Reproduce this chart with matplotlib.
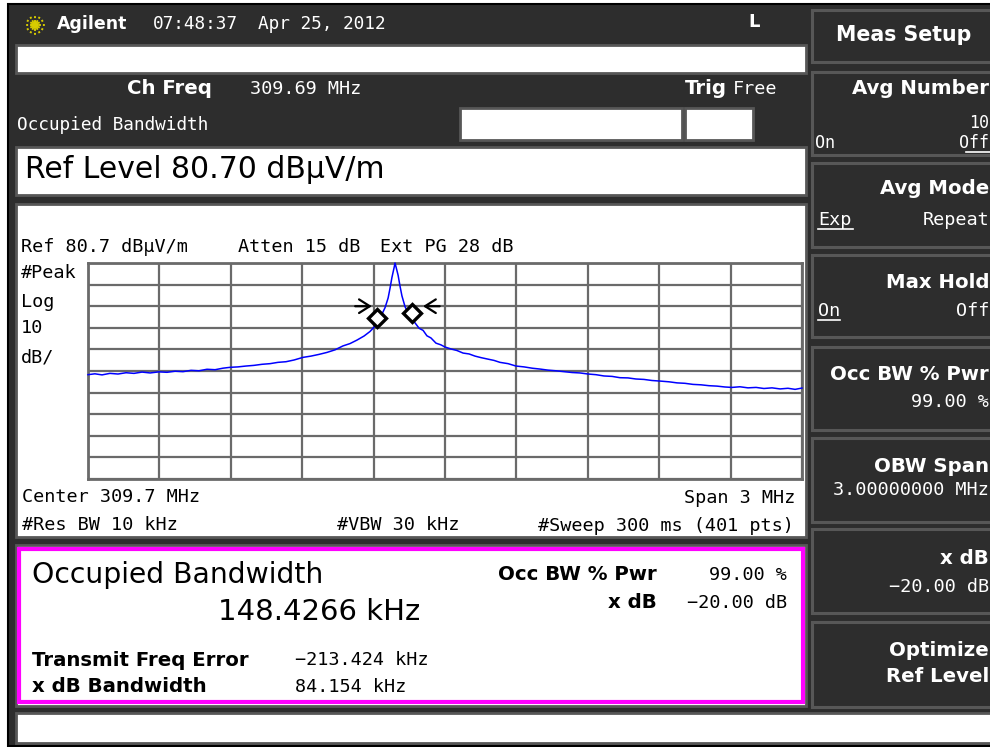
import numpy as np
import matplotlib
matplotlib.use("Agg")
import matplotlib.pyplot as plt
from matplotlib.patches import Rectangle

# ---------------- data ----------------
center_mhz = 309.7
span_mhz = 3.0
ref_level = 80.7
db_per_div = 10
ch_freq_mhz = 309.69

# trace: frequency offset from centre (kHz) and level (dBuV/m)
trace_offset_khz = [
    -1500, -1471, -1441, -1408, -1374, -1340, -1307, -1273, -1239, -1202,
    -1168, -1134, -1101, -1067, -1034, -1000, -966, -933, -903, -870,
    -836, -803, -769, -735, -702, -668, -634, -597, -563, -529,
    -496, -462, -429, -399, -370, -340, -315, -298, -282, -265,
    -252, -239, -231, -223, -214, -210, -206, -197, -189, -181,
    -168, -155, -143, -126, -109, -92, -76, -59, -38, -17,
    0, 25, 50, 76, 101, 126, 151, 176, 206, 231,
    265, 298, 332, 366, 399, 433, 466, 500, 534, 567,
    601, 634, 668, 702, 735, 769, 802, 836, 870, 908,
    941, 975, 1008, 1042, 1076, 1109, 1143, 1176, 1206, 1239,
    1273, 1307, 1340, 1374, 1408, 1441, 1471, 1500]
trace_level_db = [
    29.0, 29.4, 28.9, 29.6, 29.3, 29.9, 29.6, 30.2, 29.8, 30.3,
    30.1, 30.6, 30.4, 31.0, 30.8, 31.5, 31.3, 32.0, 32.4, 32.6,
    33.0, 33.3, 33.8, 34.1, 34.7, 35.0, 35.8, 37.0, 37.6, 38.4,
    39.3, 40.5, 42.3, 43.4, 45.0, 46.9, 49.0, 51.0, 53.5, 57.0,
    60.0, 64.5, 69.0, 74.0, 78.5, 80.7, 79.0, 75.0, 70.0, 65.5,
    60.5, 57.5, 55.5, 53.0, 50.5, 49.5, 47.0, 46.0, 43.6, 42.8,
    41.8, 40.9, 40.2, 39.0, 38.6, 37.6, 36.9, 36.3, 35.6, 34.7,
    34.1, 33.0, 32.6, 32.0, 31.6, 31.1, 30.8, 30.4, 30.0, 29.8,
    29.3, 29.0, 28.4, 28.2, 27.6, 27.5, 27.0, 26.8, 26.3, 26.0,
    25.7, 25.2, 25.0, 24.5, 24.3, 23.9, 23.7, 23.3, 23.1, 23.4,
    22.9, 23.1, 22.6, 22.9, 22.4, 22.7, 22.2, 22.8]

occ_bw_khz = 148.4266
freq_error_khz = -213.424
xdb_bw_khz = 84.154
occ_pwr_pct = 99.00
xdb_value = -20.00

# ---------------- style ----------------
DARK = "#2d2d2d"
EDGE = "#575757"
MONO = "DejaVu Sans Mono"
SANS = "DejaVu Sans"
MS = 13.3      # small mono size
BS = 14.2      # bold label size

fig = plt.figure(figsize=(9.9, 7.47), dpi=100, facecolor="white")
bg = fig.add_axes([0, 0, 1, 1])
bg.set_xlim(0, 990)
bg.set_ylim(747, 0)
bg.axis("off")


def box(x0, y0, x1, y1, fc, ec=EDGE, lw=2.0, z=1):
    bg.add_patch(Rectangle((x0, y0), x1 - x0, y1 - y0, facecolor=fc,
                           edgecolor=ec, linewidth=lw, zorder=z))


def txt(s, x, y, size=MS, color="black", ha="left", family=MONO, weight="normal"):
    bg.text(x, y, s, fontsize=size, color=color, ha=ha, va="center",
            family=family, fontweight=weight, zorder=5)


def utxt(s, x, y, x0, x1, color="white", ha="left", size=MS):
    txt(s, x, y, color=color, ha=ha, size=size)
    bg.plot([x0, x1], [y + 9, y + 9], color=color, lw=1.2, zorder=5)


# dark instrument frame
box(8, 4, 992, 746, DARK, ec="black", lw=1.5, z=0)

# logo
cx, cy = 35, 25
for a in np.linspace(0, 2 * np.pi, 12, endpoint=False):
    bg.plot([cx + 3.5 * np.cos(a), cx + 10 * np.cos(a)],
            [cy + 3.5 * np.sin(a), cy + 10 * np.sin(a)],
            color="#d8cc00", lw=1.4, ls=(0, (1, 1)), zorder=5)
bg.add_patch(plt.Circle((cx, cy), 3.2, color="#d8cc00", zorder=5))

txt("Agilent", 57, 24, size=12.5, color="white", family=SANS, weight="bold")
txt("07:48:37", 153, 24, size=12.8, color="white")
txt("Apr 25, 2012", 258, 24, size=12.8, color="white")
txt("L", 754, 22, size=13, color="white", family=SANS, weight="bold", ha="center")

box(16, 45, 806, 73, "white")
txt("Ch Freq", 127, 89, size=BS, color="white", family=SANS, weight="bold")
txt(f"{ch_freq_mhz:.2f} MHz", 250, 89, color="white")
txt("Trig", 685, 89, size=BS, color="white", family=SANS, weight="bold")
txt("Free", 733, 89, color="white")
txt("Occupied Bandwidth", 17, 125, size=12.8, color="white")
box(460, 108, 682, 140, "white")
box(685, 108, 753, 140, "white")

box(16, 147, 806, 195, "white")
txt(f"Ref Level {ref_level:.2f} dBμV/m", 25, 170, size=21.5, family=SANS)

# graph panel
box(16, 204, 806, 537, "white")
txt(f"Ref {ref_level:.1f} dBμV/m", 21, 247)
txt("Atten 15 dB", 238, 247)
txt("Ext PG 28 dB", 380, 247)
for s, y in zip(["#Peak", "Log", f"{db_per_div}", "dB/"], [273, 302, 328, 357]):
    txt(s, 21, y)
txt(f"Center {center_mhz:.1f} MHz", 22, 497)
txt(f"Span {span_mhz:g} MHz", 795, 498, ha="right")
txt("#Res BW 10 kHz", 22, 525)
txt("#VBW 30 kHz", 337, 525)
txt("#Sweep 300 ms (401 pts)", 794, 526, ha="right")

# results panel
box(16, 545, 806, 706, "white")
box(19, 549, 803, 702, "white", ec="#ff00ff", lw=3, z=2)
txt("Occupied Bandwidth", 32, 575, size=20.3, family=SANS)
txt(f"{occ_bw_khz:.4f} kHz", 218, 612, size=21, family=SANS)
txt("Transmit Freq Error", 32, 660, size=BS, family=SANS, weight="bold")
txt(f"\u2212{abs(freq_error_khz):.3f} kHz", 295, 660)
txt("x dB Bandwidth", 32, 687, size=BS, family=SANS, weight="bold")
txt(f"{xdb_bw_khz:.3f} kHz", 295, 687)
txt("Occ BW % Pwr", 657, 575, size=BS, family=SANS, weight="bold", ha="right")
txt(f"{occ_pwr_pct:.2f} %", 787, 575, ha="right")
txt("x dB", 657, 603, size=BS, family=SANS, weight="bold", ha="right")
txt(f"\u2212{abs(xdb_value):.2f} dB", 787, 603, ha="right")

box(16, 713, 992, 743, "white")

# softkeys
keys = [(10, 62), (72, 155), (163, 247), (255, 337), (347, 430),
        (438, 522), (529, 613), (622, 707)]
for y0, y1 in keys:
    box(812, y0, 994, y1, DARK, ec=EDGE, lw=2.2)
R = 989
txt("Meas Setup", 904, 35, size=14.8, color="white", family=SANS, weight="bold", ha="center")
txt("Avg Number", R, 88, size=BS, color="white", family=SANS, weight="bold", ha="right")
txt("10", R, 123, size=12, color="white", ha="right")
txt("On", 815, 143, size=12, color="white")
utxt("Off", R, 143, 966, 990, ha="right", size=12)
txt("Avg Mode", R, 188, size=BS, color="white", family=SANS, weight="bold", ha="right")
utxt("Exp", 818, 220, 818, 853)
txt("Repeat", R, 220, color="white", ha="right")
txt("Max Hold", R, 283, size=BS, color="white", family=SANS, weight="bold", ha="right")
utxt("On", 818, 311, 818, 840)
txt("Off", R, 311, color="white", ha="right")
txt("Occ BW % Pwr", R, 375, size=BS, color="white", family=SANS, weight="bold", ha="right")
txt(f"{occ_pwr_pct:.2f} %", R, 402, color="white", ha="right")
txt("OBW Span", R, 467, size=BS, color="white", family=SANS, weight="bold", ha="right")
txt(f"{span_mhz:.8f} MHz", R, 490, color="white", ha="right")
txt("x dB", R, 558, size=BS, color="white", family=SANS, weight="bold", ha="right")
txt(f"\u2212{abs(xdb_value):.2f} dB", R, 587, color="white", ha="right")
txt("Optimize", R, 650, size=BS, color="white", family=SANS, weight="bold", ha="right")
txt("Ref Level", R, 677, size=BS, color="white", family=SANS, weight="bold", ha="right")

# ---------------- spectrum graticule ----------------
ax = fig.add_axes([88 / 990, 1 - 479 / 747, 714 / 990, 216 / 747])
fmin = center_mhz - span_mhz / 2
fmax = center_mhz + span_mhz / 2
ybot = ref_level - 10 * db_per_div
ax.set_xlim(fmin, fmax)
ax.set_ylim(ybot, ref_level)
ax.set_facecolor("white")
ax.set_xticks(np.linspace(fmin, fmax, 11))
ax.set_yticks(np.linspace(ybot, ref_level, 11))
ax.tick_params(length=0, labelbottom=False, labelleft=False)
ax.grid(True, color="#6a6a6a", lw=1.6)
for sp in ax.spines.values():
    sp.set_color("#6a6a6a")
    sp.set_linewidth(2)

freqs = center_mhz + np.array(trace_offset_khz) / 1000.0
levels = np.array(trace_level_db)
ax.plot(freqs, levels, color="#0000ff", lw=1.1, zorder=3, clip_on=False)

peak_f = center_mhz + freq_error_khz / 1000.0
obw_edges = [peak_f - occ_bw_khz / 2000.0, peak_f + occ_bw_khz / 2000.0]
obw_levels = np.interp(obw_edges, freqs, levels) + 2.5
ax.plot(obw_edges, obw_levels, ls="none", marker="D", ms=9.5, mfc="white",
        mec="black", mew=2.4, zorder=4)

xdb_level = levels.max() + xdb_value
xl = peak_f - xdb_bw_khz / 2000.0 - 0.052
xr = peak_f + xdb_bw_khz / 2000.0 + 0.079
arrow = dict(arrowstyle="->,head_length=0.55,head_width=0.35", color="black",
             lw=1.6, mutation_scale=14, shrinkA=0, shrinkB=0)
ax.annotate("", xy=(xl, xdb_level), xytext=(xl - 0.070, xdb_level),
            arrowprops=arrow, zorder=4)
ax.annotate("", xy=(xr, xdb_level), xytext=(xr + 0.070, xdb_level),
            arrowprops=arrow, zorder=4)

fig.savefig("out.png", dpi=100, facecolor="white")
